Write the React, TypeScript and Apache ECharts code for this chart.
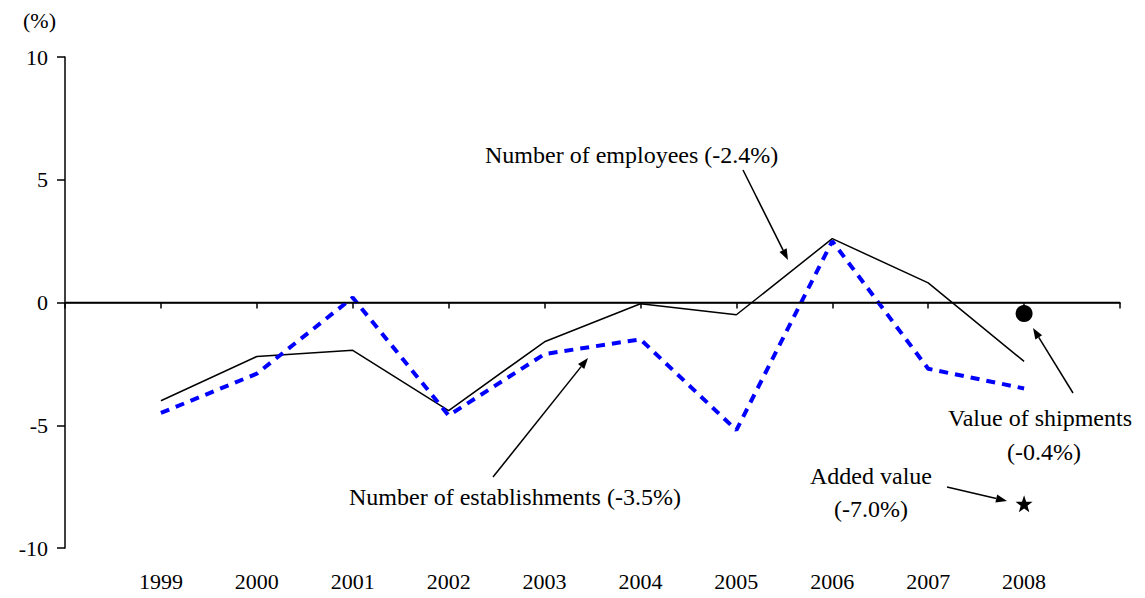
import React, { useEffect, useRef } from "react";
import * as echarts from "echarts";

const categories = ["", "1999", "2000", "2001", "2002", "2003", "2004", "2005", "2006", "2007", "2008", ""];
const employees = [null, -4.0, -2.2, -1.95, -4.4, -1.6, -0.05, -0.5, 2.6, 0.8, -2.4, null];
const establishments = [null, -4.5, -2.9, 0.2, -4.6, -2.1, -1.5, -5.2, 2.5, -2.7, -3.5, null];
const shipments = [["2008", -0.45]];
const addedValue = [["2008", -8.2]];

const FONT = "'Liberation Serif', 'Times New Roman', serif";
const FS = 22;
const FS_NOTE = 24;

function starPath(): string {
  const pts: string[] = [];
  for (let i = 0; i < 10; i++) {
    const r = i % 2 === 0 ? 50 : 20;
    const a = -Math.PI / 2 + (i * Math.PI) / 5;
    pts.push(`${(50 + r * Math.cos(a)).toFixed(2)} ${(50 + r * Math.sin(a)).toFixed(2)}`);
  }
  return "path://M" + pts.join(" L") + " Z";
}

function arrow(x1: number, y1: number, x2: number, y2: number) {
  const ang = Math.atan2(y2 - y1, x2 - x1);
  const len = 11;
  const w = 4;
  const bx = x2 - len * Math.cos(ang);
  const by = y2 - len * Math.sin(ang);
  const px = -Math.sin(ang) * w;
  const py = Math.cos(ang) * w;
  return [
    { type: "line", shape: { x1, y1, x2: bx, y2: by }, style: { stroke: "#000", lineWidth: 1.5 } },
    {
      type: "polygon",
      shape: { points: [[x2, y2], [bx + px, by + py], [bx - px, by - py]] },
      style: { fill: "#000" },
    },
  ];
}

function txt(x: number, y: number, text: string, align = "left", size = FS_NOTE) {
  return {
    type: "text",
    x,
    y,
    style: {
      text,
      fontFamily: FONT,
      fontSize: size,
      fill: "#000",
      align,
      verticalAlign: "middle",
    },
  };
}

export default function App() {
  const ref = useRef<HTMLDivElement>(null);
  useEffect(() => {
    if (!ref.current) return;
    const chart = echarts.init(ref.current, undefined, { renderer: "svg" });
    chart.setOption({
      animation: false,
      grid: { left: 65, right: 25, top: 57, bottom: 50 },
      xAxis: {
        type: "category",
        data: categories,
        boundaryGap: false,
        axisLine: { lineStyle: { color: "#000", width: 1.5 } },
        axisTick: { show: true, interval: 0, length: 6, lineStyle: { color: "#000", width: 1.5 } },
        axisLabel: { interval: 0, color: "#000", fontFamily: FONT, fontSize: FS, margin: 22 },
        splitLine: { show: false },
      },
      yAxis: {
        type: "value",
        min: -10,
        max: 10,
        interval: 5,
        axisLine: { show: true, lineStyle: { color: "#000", width: 1.5 } },
        axisTick: { show: true, length: 8, lineStyle: { color: "#000", width: 1.5 } },
        axisLabel: { color: "#000", fontFamily: FONT, fontSize: FS, margin: 17 },
        splitLine: { show: false },
      },
      series: [
        {
          name: "Number of employees",
          type: "line",
          data: employees,
          symbol: "none",
          lineStyle: { color: "#000", width: 1.5 },
          markLine: {
            silent: true,
            symbol: "none",
            label: { show: false },
            lineStyle: { color: "#000", width: 1.3, type: "solid" },
            data: [{ yAxis: 0 }],
          },
          z: 2,
        },
        {
          name: "Number of establishments",
          type: "line",
          data: establishments,
          symbol: "none",
          lineStyle: { color: "#0000FF", width: 4, type: [9, 7] },
          z: 3,
        },
        {
          name: "Value of shipments",
          type: "scatter",
          data: shipments,
          symbol: "circle",
          symbolSize: 17,
          itemStyle: { color: "#000", opacity: 1 },
          z: 4,
        },
        {
          name: "Added value",
          type: "scatter",
          data: addedValue,
          symbol: starPath(),
          symbolSize: 17,
          itemStyle: { color: "#000", opacity: 1 },
          z: 4,
        },
      ],
      graphic: [
        txt(23, 20, "(%)", "left", FS),
        txt(485, 155, "Number of employees (-2.4%)"),
        txt(349, 497, "Number of establishments (-3.5%)"),
        txt(1040, 418, "Value of shipments", "center"),
        txt(1044, 452, "(-0.4%)", "center"),
        txt(871, 476, "Added value", "center"),
        txt(871, 509, "(-7.0%)", "center"),
        ...arrow(743, 170, 788, 260),
        ...arrow(493, 477, 588, 358),
        ...arrow(1073, 393, 1033, 328),
        ...arrow(947, 487, 1007, 501),
      ],
    });
    return () => chart.dispose();
  }, []);
  return <div ref={ref} style={{ width: 1145, height: 598, position: "absolute", left: 0, top: 0 }} />;
}
